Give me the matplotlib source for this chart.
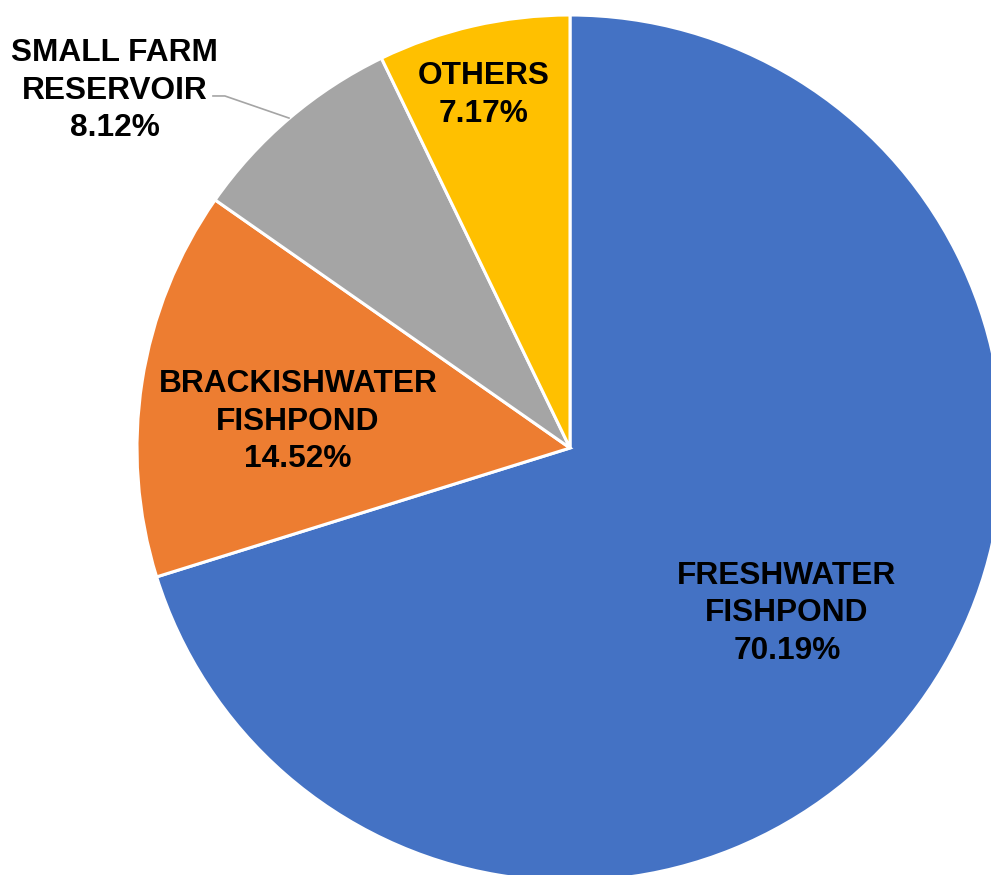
import matplotlib.pyplot as plt

# pond types and their share of production
categories = ["FRESHWATER\nFISHPOND", "BRACKISHWATER\nFISHPOND", "SMALL FARM\nRESERVOIR", "OTHERS"]
shares = [70.19, 14.52, 8.12, 7.17]
colors = ["#4472C4", "#ED7D31", "#A5A5A5", "#FFC000"]

plt.rcParams['font.family'] = ['Liberation Sans', 'DejaVu Sans']

fig = plt.figure(figsize=(9.91, 8.75), dpi=100)
ax = fig.add_axes([0, 0, 1, 1])

wedges, _ = ax.pie(shares, colors=colors, startangle=90, counterclock=False,
                   radius=1.0, center=(0, 0),
                   wedgeprops=dict(edgecolor="white", linewidth=2.2))

# label spots for each slice (data units, radius = 1)
label_pos = [(0.501, -0.382), (-0.628, 0.061), (-1.051, 0.825), (-0.199, 0.815)]
for name, val, (lx, ly) in zip(categories, shares, label_pos):
    ax.text(lx, ly, "%s\n%.2f%%" % (name, val), ha="center", va="center",
            fontsize=22.8, fontweight="bold", color="black", linespacing=1.32)

# leader line for the small reservoir label
ax.plot([-0.8245, -0.797, -0.649], [0.813, 0.813, 0.762], color="#A5A5A5", lw=1.2)

ax.set_xlim(-570 / 433, (991 - 570) / 433)
ax.set_ylim(-(875 - 448) / 433, 448 / 433)
ax.set_aspect("equal")
ax.axis("off")

fig.savefig("out.png", dpi=100, facecolor="white")
